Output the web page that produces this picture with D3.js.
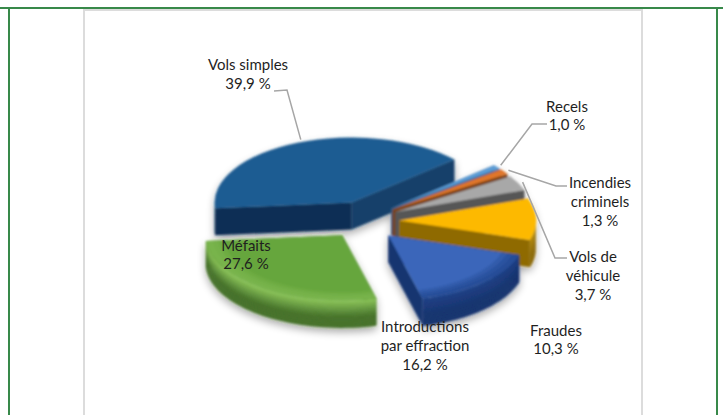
<!DOCTYPE html>
<html><head><meta charset="utf-8">
<script src="https://cdn.jsdelivr.net/npm/d3@7"></script>
<style>html,body{margin:0;padding:0;background:#fff}svg{display:block}text{font-family:Lato,"Open Sans",sans-serif;font-size:15px;fill:#1f1f1f;text-anchor:middle}</style>
</head><body><svg id="c" width="723" height="415"></svg>
<script>
// Data, clockwise from the start of the first slice
const categories = ["Vols simples","Recels","Incendies criminels","Vols de véhicule","Fraudes","Introductions par effraction","Méfaits"];
const values = [39.9,1.0,1.3,3.7,10.3,16.2,27.6];
const topColors = ["#1f5c92","#5b9bd5","#e0762a","#a8a8a8","#fdb900","#3a66ba","#66a63c"];
const wallTop = ["#17456f","#3f79ad","#b15a20","#6f6f6f","#b08406","#1d3f84","#86bf56"];
const wallBottom = ["#0d2f55","#2f5c86","#7c4318","#4f4f4f","#8a6606","#17346f","#46722a"];
const endFace = ["#14406a","#2f5c86","#7c4318","#565656","#8f6a04","#17346f","#46722a"];
const labelLines = [["Vols simples","39,9 %"],["Recels","1,0 %"],["Incendies","criminels","1,3 %"],["Vols de","véhicule","3,7 %"],["Fraudes","10,3 %"],["Introductions","par effraction","16,2 %"],["Méfaits","27,6 %"]];

const svg = d3.select("#c");
const rad = d => d*Math.PI/180;
const R=137, K=0.475, DEPTH=27, CX=365, CY=221, EX=34, EY=20;
const arcs = d3.pie().sort(null).startAngle(rad(265)).endAngle(rad(625))(values);
const geom = arcs.map((a,i)=>{const m=(a.startAngle+a.endAngle)/2;
  return {...a, ox:CX+EX*Math.sin(m)-(i===6?3:0), oy:CY-EY*Math.cos(m)-(i===6?2:0)};});
const pt=(g,a,d=0,r=R)=>[g.ox+r*Math.sin(a), g.oy-r*K*Math.cos(a)+d];

// frame
const frame=svg.append("g");
frame.append("path").attr("d","M84,416V10H642V416").attr("fill","none").attr("stroke","#dcdcdc").attr("stroke-width",2);
frame.append("path").attr("d","M0,8H723M9,8V415M717,8V415").attr("fill","none").attr("stroke","#38894a").attr("stroke-width",2);

// filters
const defs=svg.append("defs");
const f=defs.append("filter").attr("id","soft").attr("x","-20%").attr("y","-20%").attr("width","140%").attr("height","140%");
f.append("feGaussianBlur").attr("in","SourceAlpha").attr("stdDeviation",4).attr("result","b");
f.append("feOffset").attr("in","b").attr("dy",4).attr("result","o");
f.append("feComponentTransfer").attr("in","o").attr("result","s").append("feFuncA").attr("type","linear").attr("slope",0.35);
f.append("feGaussianBlur").attr("in","SourceGraphic").attr("stdDeviation",0.8).attr("result","g");
const mg=f.append("feMerge");mg.append("feMergeNode").attr("in","s");mg.append("feMergeNode").attr("in","g");

const pie=svg.append("g").attr("filter","url(#soft)");
const area=d3.area();
const BANDS=10;
const frontSpans=[[rad(90),rad(270)],[rad(450),rad(630)]];
geom.forEach((g,i)=>{
  const ramp=d3.interpolateRgb(wallTop[i],wallBottom[i]);
  const slice=pie.append("g");
  // radial cut faces
  [g.startAngle,g.endAngle].forEach((a,n)=>{
    const p=pt(g,a), q=[g.ox,g.oy];
    slice.append("path").attr("d",d3.line()([q,p,[p[0],p[1]+DEPTH],[q[0],q[1]+DEPTH]])+"Z")
      .attr("fill",n?endFace[i]:wallBottom[i]);
  });
  // outer curved wall in bands, sweeping the visible front half
  frontSpans.forEach(([lo,hi])=>{
    const s=Math.max(g.startAngle,lo), e=Math.min(g.endAngle,hi);
    if(e<=s) return;
    const angles=d3.range(0,41).map(t=>s+(e-s)*t/40);
    d3.range(BANDS).forEach(b=>{
      const d0=DEPTH*b/BANDS, d1=DEPTH*(b+1)/BANDS+0.5;
      const u=Math.min(1,(b/(BANDS-1))*1.6);
      slice.append("path").attr("fill",ramp(u))
       .attr("d",area.x(a=>pt(g,a)[0]).y0(a=>pt(g,a,d0)[1]).y1(a=>pt(g,a,d1)[1])(angles));
    });
  });
  // top face
  const tf=`translate(${g.ox},${g.oy}) scale(1,${K})`;
  slice.append("path").attr("d",d3.arc().innerRadius(0).outerRadius(R)(g)).attr("transform",tf).attr("fill",topColors[i]);
  // rim shading on slices lying wholly along the front of the pie
  frontSpans.forEach(([lo,hi])=>{
    const s=Math.max(g.startAngle,lo), e=Math.min(g.endAngle,hi);
    if(e-s<rad(40)) return;
    [0.95,0.91,0.87].forEach(fr=>{
      slice.append("path").attr("transform",tf).attr("fill",wallTop[i]).attr("opacity",0.28)
        .attr("d",d3.arc().innerRadius(R*fr).outerRadius(R).startAngle(s).endAngle(e)());
    });
  });
});

// label placement: [centre x, first baseline, line step]
const labelPos=[[248,70,19],[567,112,18],[600,188,19],[593,262,19],[556,336,18],[425,332,19],[246,251,18]];
// leaders: slice, angle nudge in degrees, knee, end
const leaders=[[0,2.2,[287,90],[274,91]],[1,0,[532,124],[547,124]],[2,0,[556,186],[567,186]],[3,0,[555,258],[567,258]]];
const lg=svg.append("g").attr("fill","none").attr("stroke","#a6a6a6").attr("stroke-width",1.5);
leaders.forEach(([i,nudge,k,e])=>{
  const g=geom[i], m=(g.startAngle+g.endAngle)/2+rad(nudge);
  lg.append("path").attr("d",d3.line()([pt(g,m,0,R+5),k,e]));
});
labelLines.forEach((ls,i)=>{
  const [x,y,st]=labelPos[i];
  const t=svg.append("text").attr("aria-label",categories[i]);
  ls.forEach((l,j)=>t.append("tspan").attr("x",x).attr("y",y+j*st).text(l));
});
</script></body></html>
